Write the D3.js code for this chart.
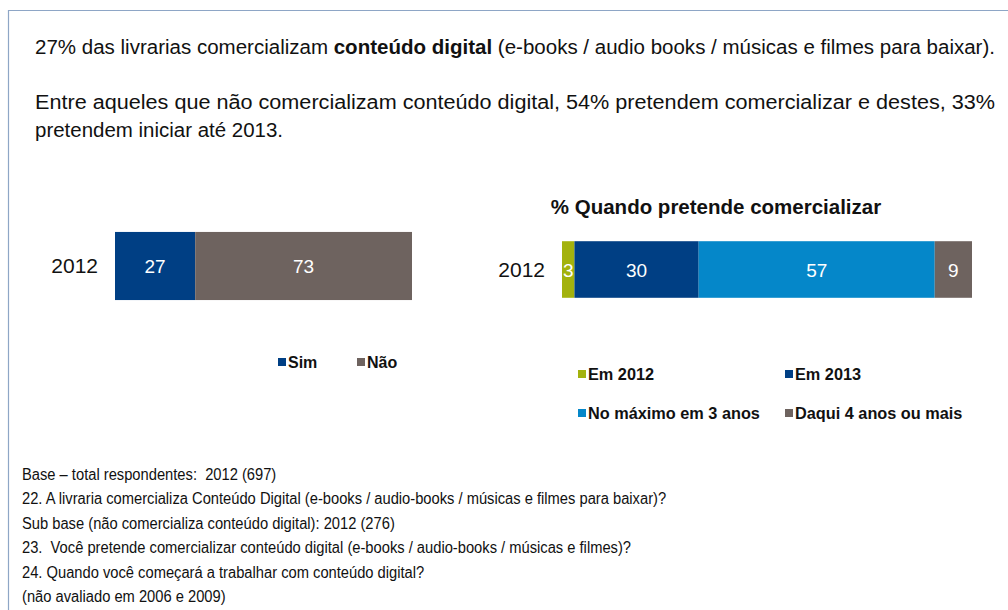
<!DOCTYPE html>
<html><head><meta charset="utf-8">
<script src="https://cdn.jsdelivr.net/npm/d3@7"></script>
<style>body{margin:0;background:#fff}svg{display:block}</style>
</head><body><svg id="c" width="1008" height="610"></svg>
<script>
const leftCats = ["Sim", "Não"];
const leftVals = [27, 73];
const rightCats = ["Em 2012", "Em 2013", "No máximo em 3 anos", "Daqui 4 anos ou mais"];
const rightVals = [3, 30, 57, 9];
const yearLabel = ["2012"];
const leftColors = ["#003f84", "#6e635f"];
const rightColors = ["#a3b20d", "#003f84", "#0587c9", "#6e635f"];
const footnotes = [
  "Base – total respondentes:  2012 (697)",
  "22. A livraria comercializa Conteúdo Digital (e-books / audio-books / músicas e filmes para baixar)?",
  "Sub base (não comercializa conteúdo digital): 2012 (276)",
  "23.  Você pretende comercializar conteúdo digital (e-books / audio-books / músicas e filmes)?",
  "24. Quando você começará a trabalhar com conteúdo digital?",
  "(não avaliado em 2006 e 2009)"
];

const svg = d3.select("#c");
const sans = "'Liberation Sans',Arial,sans-serif";

// frame
svg.append("path").attr("d","M8.5,620 V10.5 H1008").attr("fill","none").attr("stroke","#8ea6c6").attr("stroke-width",1.2);

// header
const t1 = svg.append("text").attr("x",35).attr("y",54).attr("font-family",sans).attr("font-size",20).attr("fill","#111")
  .attr("textLength",960).attr("lengthAdjust","spacingAndGlyphs");
t1.append("tspan").text("27% das livrarias comercializam ");
t1.append("tspan").attr("font-weight","bold").text("conteúdo digital");
t1.append("tspan").text(" (e-books / audio books / músicas e filmes para baixar).");
svg.append("text").attr("x",35).attr("y",109).attr("font-family",sans).attr("font-size",20).attr("fill","#111")
  .attr("textLength",960).attr("lengthAdjust","spacingAndGlyphs")
  .text("Entre aqueles que não comercializam conteúdo digital, 54% pretendem comercializar e destes, 33%");
svg.append("text").attr("x",35).attr("y",137).attr("font-family",sans).attr("font-size",20).attr("fill","#111")
  .attr("textLength",248).attr("lengthAdjust","spacingAndGlyphs")
  .text("pretendem iniciar até 2013.");

function stack(vals){ let c=0; return vals.map(v=>{const o={x0:c,x1:c+v,v}; c+=v; return o;}); }

// left chart
const xL = d3.scaleLinear().domain([0, d3.sum(leftVals)]).range([115, 412]);
const yL = d3.scaleBand().domain(yearLabel).range([218, 314]).padding(0.17);
const gL = svg.append("g");
const sL = stack(leftVals);
gL.selectAll("rect").data(sL).join("rect")
  .attr("x",d=>xL(d.x0)).attr("width",d=>xL(d.x1)-xL(d.x0))
  .attr("y",yL("2012")).attr("height",yL.bandwidth())
  .attr("fill",(d,i)=>leftColors[i]);
gL.selectAll("text.v").data(sL).join("text").attr("class","v")
  .attr("x",d=>(xL(d.x0)+xL(d.x1))/2).attr("y",yL("2012")+yL.bandwidth()/2+7)
  .attr("text-anchor","middle").attr("font-family",sans).attr("font-size",19).attr("fill","#fff").text(d=>d.v);
svg.append("text").attr("x",98).attr("y",yL("2012")+yL.bandwidth()/2+7).attr("text-anchor","end")
  .attr("font-family",sans).attr("font-size",21).attr("fill","#111").text(yearLabel[0]);

// left legend
const legL = svg.append("g").attr("font-family",sans).attr("font-weight","bold").attr("font-size",16).attr("fill","#111");
const legLX = [278, 357];
leftCats.forEach((c,i)=>{
  legL.append("rect").attr("x",legLX[i]).attr("y",358).attr("width",8).attr("height",8).attr("fill",leftColors[i]);
  legL.append("text").attr("x",legLX[i]+10).attr("y",368).text(c);
});

// right chart
svg.append("text").attr("x",716).attr("y",214).attr("text-anchor","middle").attr("font-family",sans)
  .attr("font-weight","bold").attr("font-size",20.5).attr("fill","#111").text("% Quando pretende comercializar");
const xR = d3.scaleLinear().domain([0, d3.sum(rightVals)]).range([562, 972]);
const yR = d3.scaleBand().domain(yearLabel).range([232, 307]).padding(0.14);
const sR = stack(rightVals);
const gR = svg.append("g");
gR.selectAll("rect").data(sR).join("rect")
  .attr("x",d=>xR(d.x0)).attr("width",d=>xR(d.x1)-xR(d.x0))
  .attr("y",yR("2012")).attr("height",yR.bandwidth())
  .attr("fill",(d,i)=>rightColors[i]);
gR.selectAll("text.v").data(sR).join("text").attr("class","v")
  .attr("x",d=>(xR(d.x0)+xR(d.x1))/2).attr("y",yR("2012")+yR.bandwidth()/2+7)
  .attr("text-anchor","middle").attr("font-family",sans).attr("font-size",19).attr("fill","#fff").text(d=>d.v);
svg.append("text").attr("x",545).attr("y",yR("2012")+yR.bandwidth()/2+7).attr("text-anchor","end")
  .attr("font-family",sans).attr("font-size",21).attr("fill","#111").text(yearLabel[0]);

const legR = svg.append("g").attr("font-family",sans).attr("font-weight","bold").attr("font-size",16.3).attr("fill","#111");
const legRPos = [[578,370],[785,370],[578,409],[785,409]];
rightCats.forEach((c,i)=>{
  const [x,y]=legRPos[i];
  legR.append("rect").attr("x",x).attr("y",y).attr("width",8).attr("height",8).attr("fill",rightColors[i]);
  legR.append("text").attr("x",x+10).attr("y",y+10).text(c);
});

// footnotes (condensed)
svg.append("g").attr("transform","translate(22,0) scale(0.92,1)")
  .selectAll("text").data(footnotes).join("text")
  .style("white-space","pre")
  .attr("x",0).attr("y",(d,i)=>480+i*24.4).attr("font-family",sans).attr("font-size",16).attr("fill","#111").text(d=>d);
</script></body></html>
